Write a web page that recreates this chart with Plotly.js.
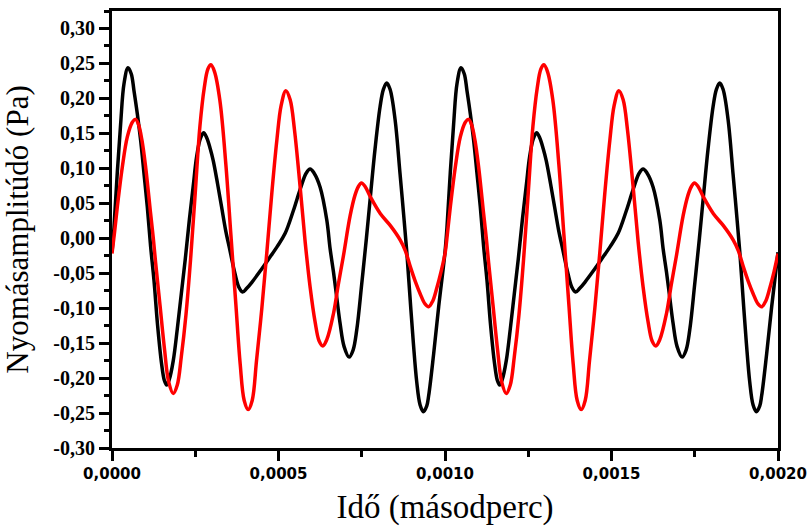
<!DOCTYPE html>
<html>
<head>
<meta charset="utf-8">
<script src="https://cdn.plot.ly/plotly-3.0.1.min.js"></script>
<style>html,body{margin:0;padding:0;background:#fff;}#chart{width:808px;height:526px;}</style>
</head>
<body>
<div id="chart"></div>
<script>
// Time axis (s) and pressure amplitude (Pa), black series
const tBlack = [
  0, 0.000006, 0.000016, 0.000026, 0.000036, 0.000048, 0.000058, 0.000066, 0.000076, 0.000086,
  0.000096, 0.000106, 0.000116, 0.000126, 0.000137, 0.000149, 0.000157, 0.000164, 0.000172, 0.000184,
  0.000196, 0.000208, 0.000220, 0.000232, 0.000244, 0.000254, 0.000265, 0.000275, 0.000285, 0.000295,
  0.000304, 0.000317, 0.000329, 0.000341, 0.000354, 0.000369, 0.000381, 0.000392, 0.000404, 0.000420,
  0.000445, 0.000470, 0.000496, 0.000520, 0.000545, 0.000565, 0.000583, 0.000595, 0.000607, 0.000625,
  0.000645, 0.000655, 0.000665, 0.000675, 0.000685, 0.000697, 0.000712, 0.000724, 0.000735, 0.000750,
  0.000764, 0.000776, 0.000790, 0.000805, 0.000815, 0.000825, 0.000835, 0.000850, 0.000865, 0.000875,
  0.000885, 0.000895, 0.000905, 0.000915, 0.000925, 0.000935, 0.000945, 0.000951, 0.000966, 0.000981,
  0.001000, 0.001006, 0.001016, 0.001026, 0.001036, 0.001048, 0.001058, 0.001066, 0.001076, 0.001086,
  0.001096, 0.001106, 0.001116, 0.001126, 0.001137, 0.001149, 0.001157, 0.001164, 0.001172, 0.001184,
  0.001196, 0.001208, 0.001220, 0.001232, 0.001244, 0.001254, 0.001265, 0.001275, 0.001285, 0.001295,
  0.001304, 0.001317, 0.001329, 0.001341, 0.001354, 0.001369, 0.001381, 0.001392, 0.001404, 0.001420,
  0.001445, 0.001470, 0.001496, 0.001520, 0.001545, 0.001565, 0.001583, 0.001595, 0.001607, 0.001625,
  0.001645, 0.001655, 0.001665, 0.001675, 0.001685, 0.001697, 0.001712, 0.001724, 0.001735, 0.001750,
  0.001764, 0.001776, 0.001790, 0.001805, 0.001815, 0.001825, 0.001835, 0.001850, 0.001865, 0.001875,
  0.001885, 0.001895, 0.001905, 0.001915, 0.001925, 0.001935, 0.001945, 0.001951, 0.001966, 0.001981,
  0.002000
];
const pBlack = [
  -0.020, 0.016, 0.095, 0.164, 0.221, 0.244, 0.235, 0.211, 0.178, 0.140,
  0.093, 0.045, -0.012, -0.060, -0.125, -0.180, -0.203, -0.210, -0.202, -0.175,
  -0.130, -0.080, -0.030, 0.025, 0.075, 0.116, 0.142, 0.151, 0.143, 0.128,
  0.111, 0.078, 0.045, 0.012, -0.017, -0.050, -0.070, -0.077, -0.072, -0.063,
  -0.047, -0.030, -0.012, 0.007, 0.040, 0.070, 0.093, 0.099, 0.093, 0.073,
  0.026, -0.015, -0.048, -0.085, -0.122, -0.155, -0.170, -0.160, -0.131, -0.065,
  0.000, 0.060, 0.128, 0.188, 0.213, 0.222, 0.213, 0.170, 0.092, 0.038,
  -0.018, -0.085, -0.150, -0.205, -0.238, -0.248, -0.240, -0.225, -0.165, -0.098,
  -0.020, 0.016, 0.095, 0.164, 0.221, 0.244, 0.235, 0.211, 0.178, 0.140,
  0.093, 0.045, -0.012, -0.060, -0.125, -0.180, -0.203, -0.210, -0.202, -0.175,
  -0.130, -0.080, -0.030, 0.025, 0.075, 0.116, 0.142, 0.151, 0.143, 0.128,
  0.111, 0.078, 0.045, 0.012, -0.017, -0.050, -0.070, -0.077, -0.072, -0.063,
  -0.047, -0.030, -0.012, 0.007, 0.040, 0.070, 0.093, 0.099, 0.093, 0.073,
  0.026, -0.015, -0.048, -0.085, -0.122, -0.155, -0.170, -0.160, -0.131, -0.065,
  0.000, 0.060, 0.128, 0.188, 0.213, 0.222, 0.213, 0.170, 0.092, 0.038,
  -0.018, -0.085, -0.150, -0.205, -0.238, -0.248, -0.240, -0.225, -0.165, -0.098,
  -0.020
];

// Red series
const tRed = [
  0, 0.000008, 0.000016, 0.000031, 0.000046, 0.000061, 0.000071, 0.000080, 0.000090, 0.000101,
  0.000116, 0.000124, 0.000131, 0.000144, 0.000158, 0.000170, 0.000184, 0.000196, 0.000208, 0.000222,
  0.000236, 0.000250, 0.000264, 0.000277, 0.000288, 0.000297, 0.000308, 0.000324, 0.000342, 0.000357,
  0.000372, 0.000385, 0.000397, 0.000409, 0.000421, 0.000434, 0.000450, 0.000465, 0.000480, 0.000495,
  0.000508, 0.000522, 0.000535, 0.000548, 0.000565, 0.000580, 0.000595, 0.000610, 0.000622, 0.000633,
  0.000645, 0.000665, 0.000680, 0.000695, 0.000715, 0.000730, 0.000740, 0.000749, 0.000760, 0.000776,
  0.000806, 0.000836, 0.000866, 0.000881, 0.000896, 0.000911, 0.000926, 0.000940, 0.000951, 0.000963,
  0.000976, 0.000988,
  0.001000, 0.001008, 0.001016, 0.001031, 0.001046, 0.001061, 0.001071, 0.001080, 0.001090, 0.001101,
  0.001116, 0.001124, 0.001131, 0.001144, 0.001158, 0.001170, 0.001184, 0.001196, 0.001208, 0.001222,
  0.001236, 0.001250, 0.001264, 0.001277, 0.001288, 0.001297, 0.001308, 0.001324, 0.001342, 0.001357,
  0.001372, 0.001385, 0.001397, 0.001409, 0.001421, 0.001434, 0.001450, 0.001465, 0.001480, 0.001495,
  0.001508, 0.001522, 0.001535, 0.001548, 0.001565, 0.001580, 0.001595, 0.001610, 0.001622, 0.001633,
  0.001645, 0.001665, 0.001680, 0.001695, 0.001715, 0.001730, 0.001740, 0.001749, 0.001760, 0.001776,
  0.001806, 0.001836, 0.001866, 0.001881, 0.001896, 0.001911, 0.001926, 0.001940, 0.001951, 0.001963,
  0.001976, 0.001988,
  0.002000
];
const pRed = [
  -0.022, 0.010, 0.045, 0.102, 0.145, 0.166, 0.170, 0.162, 0.140, 0.102,
  0.035, 0.000, -0.035, -0.095, -0.160, -0.205, -0.222, -0.210, -0.170, -0.110,
  -0.030, 0.065, 0.160, 0.215, 0.242, 0.248, 0.238, 0.197, 0.105, 0.005,
  -0.095, -0.180, -0.232, -0.245, -0.232, -0.175, -0.100, -0.020, 0.065, 0.140,
  0.190, 0.211, 0.198, 0.155, 0.073, -0.005, -0.070, -0.120, -0.147, -0.154,
  -0.145, -0.108, -0.065, -0.025, 0.032, 0.062, 0.074, 0.079, 0.074, 0.059,
  0.035, 0.018, -0.003, -0.018, -0.041, -0.062, -0.080, -0.094, -0.098, -0.090,
  -0.070, -0.048,
  -0.022, 0.010, 0.045, 0.102, 0.145, 0.166, 0.170, 0.162, 0.140, 0.102,
  0.035, 0.000, -0.035, -0.095, -0.160, -0.205, -0.222, -0.210, -0.170, -0.110,
  -0.030, 0.065, 0.160, 0.215, 0.242, 0.248, 0.238, 0.197, 0.105, 0.005,
  -0.095, -0.180, -0.232, -0.245, -0.232, -0.175, -0.100, -0.020, 0.065, 0.140,
  0.190, 0.211, 0.198, 0.155, 0.073, -0.005, -0.070, -0.120, -0.147, -0.154,
  -0.145, -0.108, -0.065, -0.025, 0.032, 0.062, 0.074, 0.079, 0.074, 0.059,
  0.035, 0.018, -0.003, -0.018, -0.041, -0.062, -0.080, -0.094, -0.098, -0.090,
  -0.070, -0.048,
  -0.022
];

// Tick labels
const xTickVals = [0, 0.0005, 0.0010, 0.0015, 0.0020];
const xTickText = ["0,0000", "0,0005", "0,0010", "0,0015", "0,0020"];
const yTickVals = [-0.30, -0.25, -0.20, -0.15, -0.10, -0.05, 0.00, 0.05, 0.10, 0.15, 0.20, 0.25, 0.30];
const yTickText = ["-0,30", "-0,25", "-0,20", "-0,15", "-0,10", "-0,05", "0,00", "0,05", "0,10", "0,15", "0,20", "0,25", "0,30"];

const xTitle = "Idő (másodperc)";
const yTitle = "Nyomásamplitúdó (Pa)";

const traces = [
  {x: tBlack, y: pBlack, type: "scatter", mode: "lines", name: "fekete",
   line: {color: "#000000", width: 3.5, shape: "spline", smoothing: 1}},
  {x: tRed, y: pRed, type: "scatter", mode: "lines", name: "piros",
   line: {color: "#ff0000", width: 3.5, shape: "spline", smoothing: 1}}
];

const layout = {
  width: 808, height: 526,
  margin: {l: 112, r: 30, t: 11, b: 78, pad: 0},
  paper_bgcolor: "#ffffff", plot_bgcolor: "#ffffff",
  showlegend: false,
  xaxis: {
    range: [0, 0.002], fixedrange: true,
    showline: true, linecolor: "#000", linewidth: 3, mirror: true,
    showgrid: false, zeroline: false,
    tickmode: "array", tickvals: xTickVals, ticktext: xTickText,
    ticks: "outside", ticklen: 10, tickwidth: 3, tickcolor: "#000",
    minor: {tickmode: "linear", tick0: 0, dtick: 0.00025, ticks: "outside", ticklen: 6, tickwidth: 3, tickcolor: "#000", showgrid: false},
    tickfont: {family: "DejaVu Sans", size: 15, color: "#000", weight: "bold"},
    title: {text: xTitle, font: {family: "Liberation Serif", size: 33, color: "#000"}, standoff: 24},
    automargin: false
  },
  yaxis: {
    range: [-0.30, 0.325], fixedrange: true,
    showline: true, linecolor: "#000", linewidth: 3, mirror: true,
    showgrid: false, zeroline: false,
    tickmode: "array", tickvals: yTickVals, ticktext: yTickText,
    ticks: "outside", ticklen: 10, tickwidth: 3, tickcolor: "#000",
    minor: {tickmode: "linear", tick0: 0, dtick: 0.025, ticks: "outside", ticklen: 5, tickwidth: 3, tickcolor: "#000", showgrid: false},
    tickfont: {family: "Liberation Serif", size: 20, color: "#000", weight: "bold"},
    title: {text: yTitle, font: {family: "Liberation Serif", size: 31, color: "#000"}, standoff: 18},
    automargin: false
  }
};

Plotly.newPlot("chart", traces, layout, {displayModeBar: false, staticPlot: true});
</script>
</body>
</html>
